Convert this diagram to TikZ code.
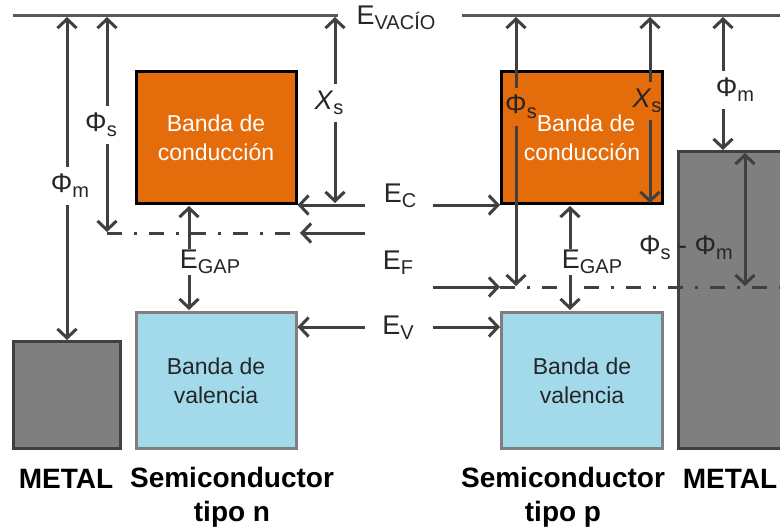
\documentclass[tikz,border=0pt]{standalone}
\usepackage{fontspec}
\setmainfont{Liberation Sans}
\usepackage{xcolor}
\usepackage{tikz}
\usetikzlibrary{arrows.meta}
\definecolor{bandorange}{HTML}{E46C0A}
\definecolor{bandblue}{HTML}{A2DAEC}
\definecolor{metalgrey}{HTML}{7F7F7F}
\definecolor{linegrey}{HTML}{404040}
\definecolor{vacgrey}{HTML}{595959}
\newcommand{\idx}[1]{\raisebox{-5pt}{\fontsize{20}{20}\selectfont #1}}

\begin{document}
\begin{tikzpicture}[x=1pt,y=-1pt,
  band/.style={rectangle,draw,line width=3pt,inner sep=0pt,
    align=center,font=\fontsize{23}{29}\selectfont},
  metal/.style={rectangle,draw=linegrey,fill=metalgrey,line width=3pt,inner sep=0pt},
  arr/.style={->,line width=3pt,draw=linegrey,>={Straight Barb[length=9pt,width=19pt]}},
  dimarr/.style={arr,<->},
  fermi/.style={line width=3pt,draw=linegrey,dash pattern=on 15pt off 12pt on 3pt off 12pt},
  lbl/.style={inner xsep=0pt,inner ysep=7pt,text=black!85,font=\fontsize{27}{27}\selectfont},
  matlabel/.style={align=center,inner sep=0pt,font=\bfseries\fontsize{28}{34}\selectfont}]

  \useasboundingbox (0,0) rectangle (780,531);
  \clip (0,0) rectangle (780,531);
  \fill[white] (0,0) rectangle (780,531);

  \node[metal,minimum width=107pt,minimum height=107pt] (metalN) at (67,395) {};
  \node[band,fill=bandorange,text=white,minimum width=160pt,minimum height=132pt] (condN) at (216,137.5) {Banda de\\conducción};
  \node[band,draw=metalgrey,fill=bandblue,text=black!85,minimum width=160pt,minimum height=136pt] (valN) at (216,380.5) {Banda de\\valencia};

  \node[band,fill=bandorange,text=white,minimum width=161pt,minimum height=132pt] (condP) at (582,137.5) {\hspace*{8pt}Banda de\\conducción};
  \node[band,draw=metalgrey,fill=bandblue,text=black!85,minimum width=161pt,minimum height=136pt] (valP) at (582,380.5) {Banda de\\valencia};
  \node[metal,minimum width=112pt,minimum height=297pt] (metalP) at (734.5,300) {};

  \coordinate (vacN1) at (13,15);
  \coordinate (vacN2) at (338,15);
  \coordinate (vacP1) at (462,15);
  \coordinate (vacP2) at (780,15);
  \coordinate (fermiN1) at (107,233);
  \coordinate (fermiN2) at (300,233);
  \coordinate (fermiP1) at (500,287);
  \coordinate (fermiP2) at (780,287);

  \draw[line width=3pt,vacgrey] (vacN1) -- (vacN2);
  \draw[line width=3pt,vacgrey] (vacP1) -- (vacP2);
  \draw[fermi] (fermiN1) -- (fermiN2);
  \draw[fermi] (fermiP1) -- (fermiP2);

  \coordinate (ecN) at (365,205);
  \coordinate (efN) at (365,233);
  \coordinate (evN) at (365,327);
  \coordinate (ecP) at (433,205);
  \coordinate (efP) at (433,287);
  \coordinate (evP) at (433,327);

  \draw[arr] (ecN) -- (ecN -| condN.east);
  \draw[arr] (efN) -- (fermiN2);
  \draw[arr] (evN) -- (evN -| valN.east);
  \draw[arr] (ecP) -- (ecP -| condP.west);
  \draw[arr] (efP) -- (fermiP1);
  \draw[arr] (evP) -- (evP -| valP.west);

  \coordinate (phimN1) at (67,17);
  \coordinate (phimN2) at (67,340);
  \coordinate (phisN1) at (107,17);
  \coordinate (phisN2) at (107,232);
  \coordinate (chiN1) at (335,17);
  \coordinate (chiN2) at (335,203);
  \coordinate (gapN1) at (189,206);
  \coordinate (gapN2) at (189,310);
  \coordinate (phisP1) at (516,17);
  \coordinate (phisP2) at (516,286);
  \coordinate (chiP1) at (650,17);
  \coordinate (chiP2) at (650,203);
  \coordinate (gapP1) at (570,206);
  \coordinate (gapP2) at (570,310);
  \coordinate (phimP1) at (723,17);
  \coordinate (phimP2) at (723,150);
  \coordinate (diffP1) at (745,153);
  \coordinate (diffP2) at (745,286);

  \draw[dimarr] (phimN1) -- (phimN2);
  \draw[dimarr] (phisN1) -- (phisN2);
  \draw[dimarr] (chiN1) -- (chiN2);
  \draw[dimarr] (gapN1) -- (gapN2);
  \draw[dimarr] (phisP1) -- (phisP2);
  \draw[dimarr] (chiP1) -- (chiP2);
  \draw[dimarr] (gapP1) -- (gapP2);
  \draw[dimarr] (phimP1) -- (phimP2);
  \draw[dimarr] (diffP1) -- (diffP2);

  \node[lbl,fill=white] (phimNl) at (70,186) {Φ\idx{m}};
  \node[lbl,fill=white] (phisNl) at (101,125) {Φ\idx{s}};
  \node[lbl,fill=white] (chiNl) at (329,103) {\textit{X}\idx{s}};
  \node[lbl,fill=white,inner ysep=1pt] (gapNl) at (210,262) {E\idx{GAP}};
  \node[lbl,fill=bandorange] (phisPl) at (521,107) {Φ\idx{s}};
  \node[lbl,fill=bandorange] (chiPl) at (647,101) {\textit{X}\idx{s}};
  \node[lbl,fill=white,inner ysep=1pt] (gapPl) at (592,262) {E\idx{GAP}};
  \node[lbl,fill=white] (phimPl) at (735,90) {Φ\idx{m}};
  \node[lbl] (diffPl) at (686,248) {Φ\idx{s} - Φ\idx{m}};

  \node[lbl,inner sep=0pt] (vacl) at (396,18) {E\idx{VACÍO}};
  \node[lbl,inner sep=0pt] (ecl) at (400,196) {E\idx{C}};
  \node[lbl,inner sep=0pt] (efl) at (398,263) {E\idx{F}};
  \node[lbl,inner sep=0pt] (evl) at (398,328) {E\idx{V}};

  \node[matlabel,anchor=base] (metalNl) at (66,488) {METAL};
  \node[matlabel,anchor=north] (semiNl) at (232,467) {Semiconductor\\tipo n};
  \node[matlabel,anchor=north] (semiPl) at (563,467) {Semiconductor\\tipo p};
  \node[matlabel,anchor=base] (metalPl) at (730,488) {METAL};
\end{tikzpicture}
\end{document}
